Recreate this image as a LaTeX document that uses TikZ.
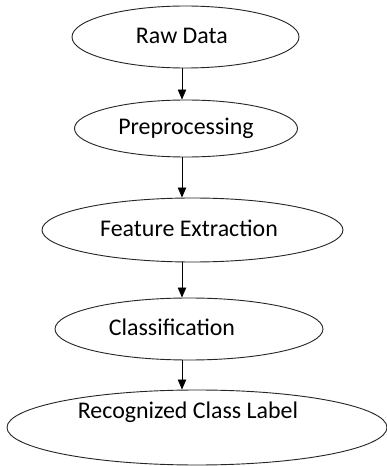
\documentclass[tikz,border=0pt]{standalone}
\usepackage{fontspec}
\setmainfont{Carlito}
\usetikzlibrary{shapes.geometric,arrows.meta}
\begin{document}
\begin{tikzpicture}[font=\fontsize{17}{20}\selectfont,
  stage/.style={draw=black!85, line width=0.65pt, ellipse, inner sep=0pt},
  flow/.style={-{Triangle[length=2.5mm,width=2.1mm]}, line width=0.6pt}]
\useasboundingbox (0,0) rectangle (9.675,11.65);

\node[stage, minimum width=5.675cm, minimum height=1.55cm,
  label={[shift={(-0.09,0.025)}]center:Raw Data}] (raw) at (4.6375,10.725) {};
\node[stage, minimum width=5.575cm, minimum height=1.425cm,
  label={center:Preprocessing}] (pre) at (4.65,8.4375) {};
\node[stage, minimum width=7.525cm, minimum height=1.6cm,
  label={[shift={(-0.0875,0.05)}]center:Feature Extraction}] (feat) at (4.8125,5.9) {};
\node[stage, minimum width=6.7cm, minimum height=1.55cm,
  label={[shift={(-0.425,0.05)}]center:Classification}] (cls) at (4.725,3.425) {};
\node[stage, minimum width=9.5cm, minimum height=1.875cm,
  label={[shift={(-0.225,0.3875)}]center:Recognized Class Label}] (lbl) at (4.925,0.9625) {};

% arrows all on one vertical line
\coordinate (axis) at (4.55,0);
\draw[flow] (raw.south -| axis) -- (pre.north -| axis);
\draw[flow] (pre.south -| axis) -- (feat.north -| axis);
\draw[flow] (feat.south -| axis) -- (cls.north -| axis);
\draw[flow] (cls.south -| axis) -- (lbl.north -| axis);
\end{tikzpicture}
\end{document}
